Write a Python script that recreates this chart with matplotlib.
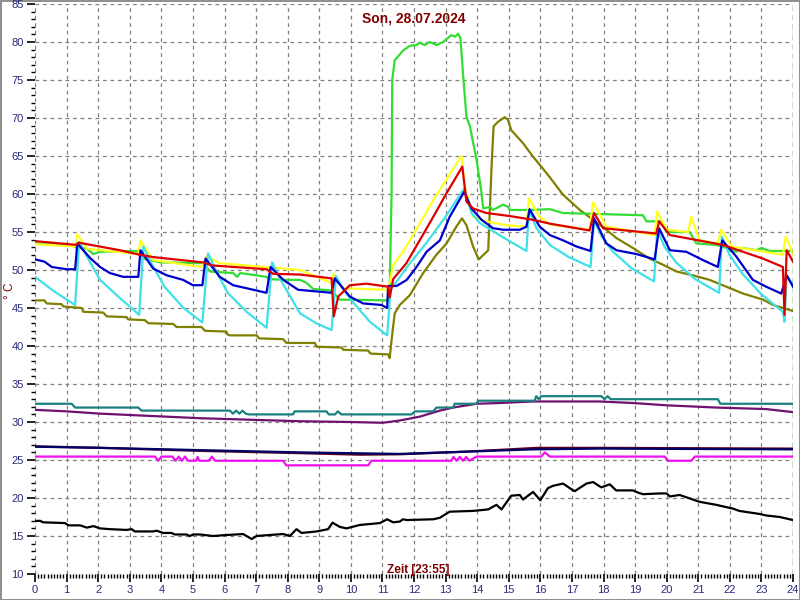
import matplotlib
matplotlib.use("Agg")
import matplotlib.pyplot as plt
from matplotlib.ticker import MultipleLocator

plt.rcParams["font.family"] = ["Liberation Sans", "DejaVu Sans"]

# hours / temperatures, one pair of lists per sensor
green_h = [0, 0.9, 1.1, 1.27, 1.64, 1.85, 2.06, 3.22, 3.43, 3.96, 5.33, 5.54, 6.27, 6.4, 6.5, 7.33, 7.4, 7.96,
           8.39, 8.6, 8.81, 9.39, 9.65, 11.18, 11.23, 11.29, 11.31, 11.39, 11.66, 11.87, 12.08, 12.18, 12.34,
           12.5, 12.71, 12.92, 13.18, 13.3, 13.4, 13.47, 13.56, 13.66, 13.77, 13.98, 14.14, 14.19, 14.4, 14.5,
           14.82, 14.98, 15.03, 15.66, 16.3, 16.72, 19.25, 19.36, 19.8, 20.0, 20.73, 20.94, 21.57, 21.9, 22.2,
           22.4, 22.84, 23.0, 23.26, 24]
green_v = [53.5, 53.3, 53.4, 53.0, 52.8, 52.1, 52.4, 52.5, 51.5, 51.0, 50.9, 49.8, 49.6, 49.1, 49.6, 49.1, 48.8, 48.7,
           48.7, 48.3, 47.5, 47.3, 46.1, 46.0, 47.3, 60.0, 75.0, 77.6, 78.9, 79.5, 79.6, 79.9, 79.6,
           80.0, 79.6, 80.0, 80.9, 80.7, 81.1, 80.5, 75.4, 70.2, 68.9, 64.5, 60.1, 58.1, 58.3, 57.9,
           58.6, 58.3, 57.9, 57.9, 58.0, 57.5, 57.2, 56.4, 56.4, 55.0, 55.0, 53.5, 53.3, 52.9, 52.4,
           52.9, 52.6, 52.9, 52.5, 52.5]

yellow_h = [0, 1.27, 1.34, 1.64, 3.27, 3.34, 3.74, 5.27, 5.43, 5.85, 8.39, 9.39, 9.46, 9.76, 11.18, 11.34, 11.76,
            12.18, 12.61, 13.5, 13.61, 13.87, 14.29, 14.92, 15.56, 15.64, 15.98, 16.3, 17.56, 17.67, 18.09,
            19.62, 19.7, 20.0, 20.68, 20.78, 21.04, 21.62, 21.73, 22.05, 23.68, 23.77, 24]
yellow_v = [53.4, 53.1, 54.7, 52.8, 52.1, 53.9, 51.3, 50.4, 51.8, 50.9, 50.0, 48.3, 49.5, 47.6, 47.4, 50.6, 53.1,
            56.1, 59.2, 65.0, 61.0, 57.0, 56.4, 55.9, 55.7, 59.4, 57.0, 56.0, 55.3, 58.9, 55.7,
            54.6, 57.7, 55.3, 55.0, 57.0, 53.9, 53.5, 55.3, 53.1, 52.0, 54.4, 52.1]

cyan_h = [0, 0.6, 1.27, 1.40, 1.64, 2.06, 2.69, 3.30, 3.43, 3.67, 4.1, 4.7, 5.30, 5.48, 5.72, 6.1, 6.7, 7.33, 7.51,
          7.75, 8.39, 8.9, 9.39, 9.53, 9.77, 10.1, 10.6, 11.15, 11.26, 11.8, 12.4, 13.0, 13.59, 13.82, 14.08,
          14.7, 15.56, 15.64, 15.88, 16.3, 16.9, 17.59, 17.70, 17.94, 18.3, 18.9, 19.6, 19.7, 19.94, 20.3, 20.9,
          21.66, 21.75, 21.99, 22.4, 23.0, 23.68, 23.73, 23.8, 24]
cyan_v = [49.1, 47.2, 45.4, 53.7, 51.8, 48.7, 46.3, 44.1, 53.1, 51.0, 47.8, 45.0, 43.1, 52.2, 50.0, 47.0, 44.5, 42.4,
          51.0, 48.9, 44.3, 43.0, 42.1, 49.2, 47.4, 45.6, 43.2, 41.4, 47.4, 50.5, 53.6, 57.0, 60.75, 57.5, 56.2,
          54.6, 52.5, 57.9, 55.5, 53.3, 51.7, 50.4, 56.6, 54.4, 52.4, 50.2, 48.5, 55.3, 53.0, 51.0, 48.8,
          47.0, 54.4, 52.0, 49.5, 46.8, 44.5, 43.2, 49.3, 48.0]

blue_h = [0, 0.3, 0.53, 1.0, 1.27, 1.34, 1.74, 2.06, 2.37, 2.79, 3.27, 3.34, 3.74, 4.17, 4.69, 5.0, 5.3, 5.40, 5.85,
          6.27, 6.70, 7.33, 7.46, 7.86, 8.33, 9.39, 9.49, 9.97, 10.39, 10.97, 11.15, 11.18, 11.45, 11.77, 12.08,
          12.4, 12.82, 13.13, 13.59, 13.82, 14.14, 14.5, 14.82, 15.35, 15.56, 15.66, 15.98, 16.3, 16.72, 17.14,
          17.59, 17.70, 18.09, 18.41, 19.04, 19.62, 19.76, 20.1, 20.62, 21.15, 21.62, 21.76, 22.2, 22.73, 23.15,
          23.63, 23.8, 24]
blue_v = [51.4, 51.1, 50.4, 50.1, 50.1, 53.5, 51.6, 50.4, 49.6, 49.1, 49.1, 52.6, 50.2, 49.3, 48.7, 48.0, 48.0, 51.5, 49.1,
          48.0, 47.6, 47.0, 50.4, 48.7, 47.4, 47.0, 48.9, 46.5, 45.6, 45.4, 45.0, 47.9, 47.9, 48.7, 50.4,
          52.4, 53.9, 57.0, 60.3, 58.1, 56.6, 55.5, 55.3, 55.3, 55.7, 58.0, 55.7, 54.6, 53.9, 53.1,
          52.5, 56.8, 53.5, 52.6, 52.1, 51.4, 55.5, 52.6, 52.4, 51.3, 50.4, 53.9, 51.8, 48.7, 47.8,
          46.9, 49.3, 47.8]

red_h = [0, 1.32, 1.38, 2.69, 3.32, 3.74, 5.33, 5.6, 7.33, 7.54, 8.39, 9.39, 9.46, 9.6, 9.97, 10.5, 11.18, 11.23,
         11.34, 11.76, 12.18, 12.61, 13.03, 13.53, 13.66, 13.87, 14.29, 15.03, 15.77, 16.3, 17.56, 17.7, 17.99,
         19.67, 19.76, 20.1, 21.78, 23.05, 23.68, 23.73, 23.8, 24]
red_v = [53.8, 53.3, 53.6, 52.6, 52.0, 51.7, 51.0, 50.6, 50.1, 49.5, 49.4, 48.9, 43.9, 46.5, 48.0, 48.2, 47.8, 46.4,
         48.8, 50.9, 53.9, 57.0, 60.1, 63.6, 59.0, 58.1, 57.5, 57.1, 56.6, 56.1, 55.2, 57.5, 55.5,
         54.8, 56.4, 54.6, 53.3, 51.5, 50.4, 44.1, 52.6, 51.1]

olive_h = [0, 0.3, 0.37, 0.84, 0.9, 1.48, 1.53, 2.16, 2.27, 2.9, 2.95, 3.48, 3.59, 4.38, 4.48, 5.27, 5.38, 6.06,
           6.1, 6.17, 7.02, 7.1, 7.86, 7.96, 8.86, 8.92, 9.71, 9.76, 10.55, 10.62, 11.18, 11.23, 11.29, 11.39,
           11.55, 11.87, 12.29, 12.71, 13.03, 13.34, 13.52, 13.66, 13.87, 14.05, 14.35, 14.46, 14.52, 14.66,
           14.87, 14.97, 15.08, 15.45, 15.77, 16.03, 16.3, 16.72, 17.25, 17.67, 18.09, 18.41, 18.93, 19.46,
           19.88, 20.31, 20.83, 21.36, 21.89, 22.42, 23.05, 23.37, 24]
olive_v = [46.0, 46.0, 45.6, 45.5, 45.2, 45.0, 44.5, 44.4, 43.9, 43.8, 43.5, 43.4, 43.0, 42.9, 42.5, 42.5, 42.0, 41.9,
           41.5, 41.4, 41.4, 41.0, 40.9, 40.4, 40.4, 39.9, 39.8, 39.5, 39.4, 39.0, 38.9, 38.4, 40.8, 44.3,
           45.4, 46.7, 49.6, 52.0, 53.5, 55.7, 56.8, 55.9, 53.1, 51.4, 52.6, 64.0, 68.9, 69.5,
           70.1, 69.8, 68.4, 66.7, 64.9, 63.6, 62.2, 59.9, 57.9, 56.6, 55.3, 54.2, 52.9, 51.5,
           50.7, 49.8, 49.3, 48.7, 47.8, 46.9, 46.1, 45.4, 44.6]

teal_h = [0, 1.16, 1.27, 3.27, 3.37, 6.17, 6.27, 6.37, 6.47, 6.57, 6.67, 6.77, 8.17, 8.22, 9.23, 9.3, 9.5, 9.59,
          9.7, 11.92, 12.03, 12.61, 12.71, 13.24, 13.29, 13.98, 14.03, 15.82, 15.87, 15.95, 16.03, 17.93, 18.03,
          18.13, 18.23, 18.3, 21.62, 21.7, 24]
teal_v = [32.4, 32.4, 31.9, 31.9, 31.5, 31.5, 31.1, 31.5, 31.1, 31.5, 31.1, 31.0, 31.0, 31.4, 31.4, 31.0, 31.0, 31.4,
          31.0, 31.0, 31.4, 31.4, 31.9, 31.9, 32.4, 32.4, 32.8, 32.8, 33.4, 33.0, 33.4, 33.4, 33.0,
          33.4, 33.0, 33.0, 33.0, 32.4, 32.4]

purple_h = [0, 1.0, 2.06, 3.64, 5.22, 6.8, 8.39, 9.97, 11.02, 11.55, 12.18, 12.82, 13.24, 13.98, 14.72, 15.77,
            17.88, 18.93, 19.98, 21.57, 23.15, 24]
purple_v = [31.6, 31.4, 31.1, 30.8, 30.5, 30.3, 30.1, 30.0, 29.9, 30.2, 30.7, 31.5, 31.9, 32.4, 32.5, 32.7,
            32.7, 32.5, 32.2, 31.9, 31.7, 31.3]

navy_h = [0, 2.06, 5.22, 8.39, 11.55, 13.66, 15.77, 17.88, 24]
navy_v = [26.75, 26.6, 26.3, 26.0, 25.8, 26.1, 26.4, 26.5, 26.4]
maroon_h = [0, 2.06, 5.22, 8.39, 10.28, 11.55, 13.66, 15.9, 17.88, 24]
maroon_v = [26.8, 26.6, 26.2, 25.9, 25.7, 25.75, 26.1, 26.6, 26.6, 26.5]

magenta_h = [0, 3.8, 3.9, 4.0, 4.35, 4.45, 4.55, 4.65, 4.75, 4.85, 5.1, 5.15, 5.2, 5.5, 5.6, 5.7, 7.86, 7.95,
             10.55, 10.65, 13.18, 13.25, 13.35, 13.45, 13.55, 13.65, 13.75, 13.98, 16.03, 16.14, 16.3, 19.94,
             20.04, 20.78, 20.89, 24]
magenta_v = [25.45, 25.45, 24.9, 25.45, 25.45, 24.9, 25.45, 24.9, 25.45, 24.9, 24.9, 25.4, 24.9, 24.9, 25.45, 24.9,
             24.9, 24.3, 24.3, 24.9, 24.9, 25.4, 24.9, 25.4, 24.9, 25.4, 24.9, 25.45, 25.45, 26.0, 25.45, 25.45,
             24.9, 24.9, 25.45, 25.45]

black_h = [0, 0.16, 0.26, 0.95, 1.06, 1.43, 1.64, 1.85, 2.06, 2.37, 2.9, 3.06, 3.16, 3.74, 3.85, 4.06, 4.32, 4.43,
           4.8, 4.9, 5.01, 5.22, 5.64, 5.96, 6.59, 6.86, 7.02, 7.33, 7.86, 8.07, 8.28, 8.44, 8.92, 9.28, 9.42,
           9.65, 9.86, 10.28, 10.92, 11.15, 11.34, 11.55, 11.65, 11.77, 12.61, 12.82, 13.13, 13.87, 14.35, 14.61,
           14.77, 15.08, 15.35, 15.45, 15.77, 16.0, 16.24, 16.4, 16.72, 17.0, 17.09, 17.46, 17.67, 17.93, 18.2,
           18.4, 18.93, 19.1, 19.25, 19.78, 20.0, 20.1, 20.41, 21.04, 21.57, 22.1, 22.3, 22.94, 23.15, 23.58, 24]
black_v = [16.97, 17.0, 16.8, 16.7, 16.4, 16.4, 16.1, 16.3, 16.0, 15.9, 15.8, 15.9, 15.6, 15.6, 15.7, 15.4, 15.4, 15.2,
           15.2, 15.0, 15.2, 15.2, 15.0, 15.1, 15.26, 14.6, 15.0, 15.1, 15.26, 15.0, 15.9, 15.4, 15.6, 15.9, 16.75,
           16.2, 16.0, 16.45, 16.7, 17.2, 16.8, 16.9, 17.2, 17.1, 17.2, 17.4, 18.2, 18.3, 18.5, 19.1,
           18.5, 20.3, 20.4, 19.8, 20.8, 19.7, 21.3, 21.6, 21.9, 21.1, 20.9, 21.9, 22.1, 21.4, 21.8,
           21.0, 21.0, 20.7, 20.5, 20.6, 20.6, 20.2, 20.4, 19.5, 19.1, 18.6, 18.3, 17.9, 17.7, 17.5, 17.1]

series = [
    (black_h, black_v, "#000000"),
    (magenta_h, magenta_v, "#ee11ee"),
    (maroon_h, maroon_v, "#600020"),
    (navy_h, navy_v, "#000066"),
    (purple_h, purple_v, "#701070"),
    (teal_h, teal_v, "#1a8080"),
    (olive_h, olive_v, "#808000"),
    (green_h, green_v, "#33dd33"),
    (yellow_h, yellow_v, "#ffff22"),
    (cyan_h, cyan_v, "#40e0e8"),
    (blue_h, blue_v, "#0000cc"),
    (red_h, red_v, "#dd0000"),
]

fig = plt.figure(figsize=(8, 6), dpi=100, edgecolor="#909090", linewidth=2)
ax = fig.add_axes([35 / 800, 26 / 600, 758 / 800, 570 / 600])

for h, v, c in series:
    ax.plot(h, v, color=c, linewidth=1.6, solid_joinstyle="round")

ax.set_xlim(0, 24)
ax.set_ylim(10, 85)
ax.xaxis.set_major_locator(MultipleLocator(1))
ax.xaxis.set_minor_locator(MultipleLocator(0.1))
ax.yaxis.set_major_locator(MultipleLocator(5))
ax.yaxis.set_minor_locator(MultipleLocator(1))
ax.grid(True, which="major", color="#808080", linestyle=(0, (3, 3)), linewidth=0.9)
for s in ax.spines.values():
    s.set_visible(False)
ax.tick_params(which="major", length=6, width=1.2, color="black", labelsize=8, labelcolor="#2a2a7a", pad=2)
ax.tick_params(which="minor", length=3, width=1, color="black")

# current time marker
ax.axvline(24, color="#007700", linestyle=(0, (4, 3)), linewidth=1)

ax.text(0.5, 0.987, "Son, 28.07.2024", transform=ax.transAxes, ha="center", va="top",
        color="#800000", fontsize=10, fontweight="bold")
ax.text(0.506, -0.004, "Zeit [23:55]", transform=ax.transAxes, ha="center", va="bottom",
        color="#800000", fontsize=8.5, fontweight="bold")
fig.text(10 / 800, 0.515, "° C", rotation=90, ha="center", va="center", color="#800000", fontsize=8.5)

fig.savefig("out.png", dpi=100, edgecolor=fig.get_edgecolor())
